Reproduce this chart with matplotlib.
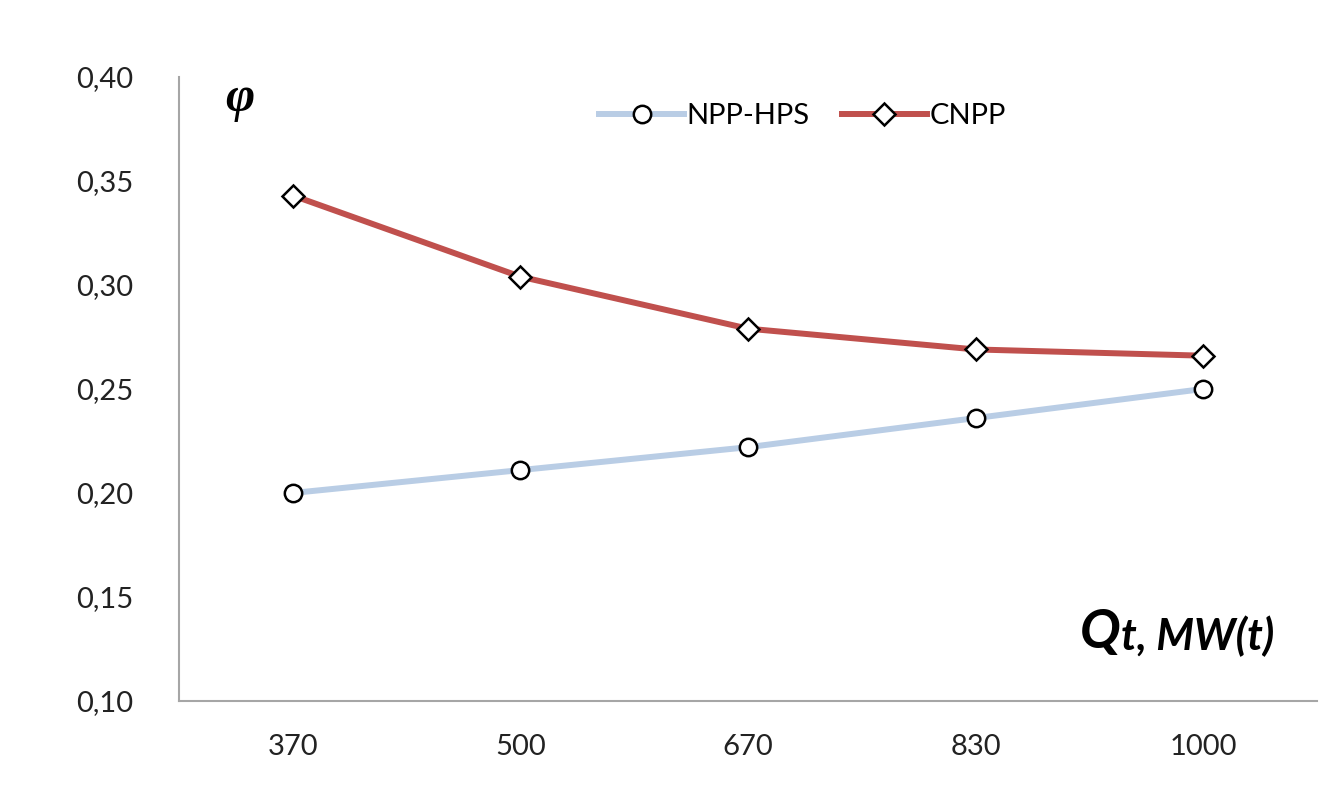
import matplotlib
matplotlib.use("Agg")
import matplotlib.pyplot as plt

# data
power_labels = ["370", "500", "670", "830", "1000"]
npp_hps = [0.200, 0.211, 0.222, 0.236, 0.250]
cnpp = [0.343, 0.304, 0.279, 0.269, 0.266]
y_ticks = [0.10, 0.15, 0.20, 0.25, 0.30, 0.35, 0.40]

BLUE = "#B9CDE5"
RED = "#C0504D"
AXIS = "#A6A6A6"

plt.rcParams["font.family"] = ["Lato", "DejaVu Sans"]

fig = plt.figure(figsize=(13.32, 8.02), dpi=100)
ax = fig.add_axes([0.1344, 0.126, 0.8543, 0.778])

x = list(range(len(power_labels)))
ax.plot(x, npp_hps, color=BLUE, lw=4.3, marker="o", ms=12.5,
        mfc="white", mec="black", mew=1.8, label="NPP-HPS", zorder=3)
ax.plot(x, cnpp, color=RED, lw=4.3, marker="D", ms=11,
        mfc="white", mec="black", mew=1.8, label="CNPP", zorder=3)

ax.set_xlim(-0.5, len(x) - 0.5)
ax.set_ylim(0.10, 0.40)
ax.set_xticks(x)
ax.set_xticklabels(power_labels)
ax.set_yticks(y_ticks)
ax.set_yticklabels([f"{v:.2f}".replace(".", ",") for v in y_ticks])
ax.tick_params(length=0, labelsize=21, colors="#222222")
ax.tick_params(axis="y", pad=33)
ax.tick_params(axis="x", pad=24)

for side in ("top", "right"):
    ax.spines[side].set_visible(False)
for side in ("left", "bottom"):
    ax.spines[side].set_color(AXIS)
    ax.spines[side].set_linewidth(1.5)

ax.legend(loc="upper center", bbox_to_anchor=(0.548, 1.0), ncol=2, frameon=False,
          fontsize=21, handlelength=2.9, columnspacing=1.1, handletextpad=0.1)

ax.text(0.053, 0.965, "φ", transform=ax.transAxes, fontsize=36,
        fontfamily="Liberation Serif", fontweight="bold", fontstyle="italic",
        ha="center", va="center")

q = ax.text(0.792, 0.085, "Q", transform=ax.transAxes, fontsize=39,
            fontweight="bold", fontstyle="italic", ha="left", va="baseline")
ax.annotate("t, MW(t)", xy=(1, 0), xycoords=q, xytext=(0, 0),
            textcoords="offset points", fontsize=31, fontweight="bold",
            fontstyle="italic", ha="left", va="bottom")

fig.savefig("out.png", dpi=100, facecolor="white")
